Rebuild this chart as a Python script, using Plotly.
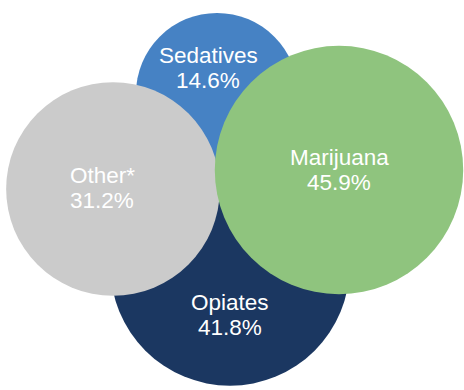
import numpy as np
import plotly.graph_objects as go

# Data (drawing order: back to front)
categories = ["Opiates", "Sedatives", "Other*", "Marijuana"]
values = [41.8, 14.6, 31.2, 45.9]
pct_labels = ["41.8%", "14.6%", "31.2%", "45.9%"]

# Bubble centres (layout coordinates, pixels from top-left)
center_x = [230, 217, 113, 339]
center_y = [266, 94, 189, 170]

# Label anchor positions
label_x = [230, 208, 102, 339]
label_y = [315, 68, 188, 170]

colors = ["#1B3761", "#4682C4", "#CBCBCB", "#8FC47E"]

W, H = 464, 390
diam = [2 * (25.3 + 14.6 * np.sqrt(v)) for v in values]

fig = go.Figure()
fig.add_trace(go.Scatter(
    x=center_x, y=center_y, mode="markers",
    marker=dict(size=diam, sizemode="diameter", sizeref=1, color=colors,
                opacity=1, line=dict(width=0)),
    hoverinfo="skip", showlegend=False,
))

font = dict(family="Liberation Sans, Arial, Helvetica, sans-serif", size=22.5, color="white")
annotations = []
for name, pct, lx, ly in zip(categories, pct_labels, label_x, label_y):
    annotations.append(dict(x=lx, y=ly, xref="x", yref="y", text=name, showarrow=False,
                            font=font, xanchor="center", yanchor="middle", yshift=12.8,
                            borderpad=0))
    annotations.append(dict(x=lx, y=ly, xref="x", yref="y", text=pct, showarrow=False,
                            font=font, xanchor="center", yanchor="middle", yshift=-12.8,
                            borderpad=0))

fig.update_layout(
    width=W, height=H,
    margin=dict(l=0, r=0, t=0, b=0, pad=0),
    paper_bgcolor="white", plot_bgcolor="white",
    xaxis=dict(range=[0, W], visible=False, fixedrange=True),
    yaxis=dict(range=[H, 0], visible=False, fixedrange=True),
    annotations=annotations,
)

fig.write_html("out.html")
